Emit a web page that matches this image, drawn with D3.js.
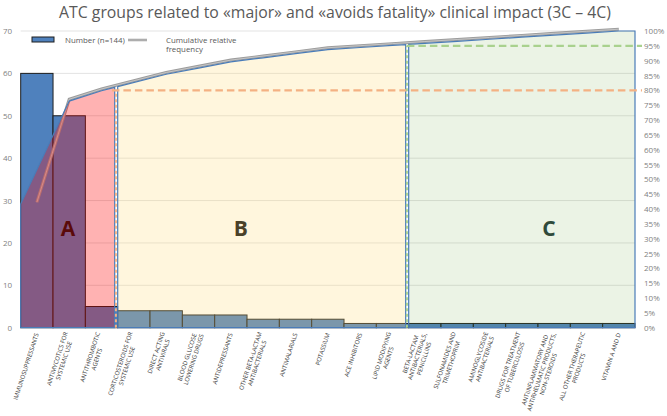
<!DOCTYPE html>
<html><head><meta charset="utf-8">
<script src="https://cdn.jsdelivr.net/npm/d3@7"></script>
<style>body{margin:0;background:#fff} svg{display:block}</style>
</head><body><svg width="667" height="416"></svg>
<script>
const title = "ATC groups related to «major» and «avoids fatality» clinical impact (3C – 4C)";
const categories = [
  "IMMUNOSUPPRESSANTS",
  "ANTIMYCOTICS FOR|SYSTEMIC USE",
  "ANTITHROMBOTIC|AGENTS",
  "CORTICOSTEROIDS FOR|SYSTEMIC USE",
  "DIRECT ACTING|ANTIVIRALS",
  "BLOOD GLUCOSE|LOWERING DRUGS",
  "ANTIDEPRESSANTS",
  "OTHER BETA-LACTAM|ANTIBACTERIALS",
  "ANTIMALARIALS",
  "POTASSIUM",
  "ACE INHIBITORS",
  "LIPID MODIFYING|AGENTS",
  "BETA-LACTAM|ANTIBACTERIALS,|PENICILLINS",
  "SULFONAMIDES AND|TRIMETHOPRIM",
  "AMINOGLYCOSIDE|ANTIBACTERIALS",
  "DRUGS FOR TREATMENT|OF TUBERCULOSIS",
  "ANTIINFLAMMATORY AND|ANTIRHEUMATIC PRODUCTS,|NON-STEROIDS",
  "ALL OTHER THERAPEUTIC|PRODUCTS",
  "VITAMIN A AND D"
];
const counts = [60, 50, 5, 4, 4, 3, 3, 2, 2, 2, 1, 1, 1, 1, 1, 1, 1, 1, 1];
const groupNames = ["A", "B", "C"];
const groupFirst = [0, 3, 12];
const groupLast = [2, 11, 18];
const thresholds = [0.80, 0.95];
const leftTicks = [0, 10, 20, 30, 40, 50, 60, 70];
const rightTicks = [0, .05, .10, .15, .20, .25, .30, .35, .40, .45, .50, .55, .60, .65, .70, .75, .80, .85, .90, .95, 1];
const legendLabels = ["Number (n=144)", "Cumulative relative", "frequency"];

const svg = d3.select("svg");
const plot = {l: 20.7, r: 635, t: 31, b: 327.7};
const x = d3.scaleBand().domain(d3.range(categories.length)).range([plot.l, plot.r]).padding(0);
const bw = x.bandwidth();
const y = d3.scaleLinear().domain([0, 70]).range([plot.b, plot.t]);
const yp = d3.scaleLinear().domain([0, 1]).range([plot.b, plot.t]);
const total = d3.sum(counts);
const cum = Array.from(d3.cumsum(counts), v => v / total);
const cx = i => x(i) + bw / 2;
const cumAt = px => {
  if (px <= cx(0)) return cum[0];
  const n = counts.length;
  if (px >= cx(n - 1)) return cum[n - 1];
  const i = Math.floor((px - cx(0)) / bw);
  const t = (px - cx(i)) / bw;
  return cum[i] + t * (cum[i + 1] - cum[i]);
};
const font = "'Open Sans', sans-serif";
// scale a text's font size so that its rendered width is the wanted one
const fitWidth = (sel, base, want) => {
  sel.attr("font-size", base);
  const w = sel.node().getComputedTextLength();
  const fs = base * want / w;
  sel.attr("font-size", fs);
  return fs;
};

// title
const tt = svg.append("text").attr("x", 335).attr("y", 17.5).attr("text-anchor", "middle")
  .attr("font-family", font).attr("fill", "#595959").text(title);
fitWidth(tt, 14, 552);

// grid
svg.append("g").selectAll("line").data(leftTicks).join("line")
  .attr("x1", plot.l).attr("x2", plot.r).attr("y1", d => y(d)).attr("y2", d => y(d))
  .attr("stroke", "#e3e3e3").attr("stroke-width", 1);

// bars
svg.append("g").selectAll("rect").data(counts).join("rect")
  .attr("x", (d, i) => x(i)).attr("y", d => y(d)).attr("width", bw).attr("height", d => y(0) - y(d))
  .attr("fill", "#4f81bd").attr("stroke", "#1e1e1e").attr("stroke-width", 1);

// cumulative line (under regions)
const line = d3.line().x((d, i) => cx(i)).y(d => yp(d));
const cumG = svg.append("g").attr("transform", "translate(0,-1.8)");
cumG.append("path").attr("d", line(cum)).attr("fill", "none").attr("stroke", "#9c9c9c").attr("stroke-width", 3);
cumG.append("path").attr("d", line(cum)).attr("fill", "none").attr("stroke", "#cfcfcf").attr("stroke-width", 0.8);

// regions
const regionFill = ["rgba(255,0,0,0.3)", "rgba(255,220,120,0.25)", "rgba(112,173,71,0.14)"];
const gapEnd = [3, 3, 0];
groupNames.forEach((g, k) => {
  const xs = x(groupFirst[k]);
  const xe = x(groupLast[k]) + bw - gapEnd[k];
  const pts = [[xs, yp(cumAt(xs))]];
  for (let i = groupFirst[k] + 1; i <= groupLast[k]; i++) if (cx(i) < xe) pts.push([cx(i), yp(cum[i])]);
  pts.push([xe, yp(cumAt(xe))]);
  pts.push([xe, y(0)]);
  pts.push([xs, y(0)]);
  svg.append("path").attr("d", "M" + pts.map(p => p.join(",")).join("L") + "Z")
    .attr("fill", regionFill[k]).attr("stroke", "#4a7cb8").attr("stroke-width", 1.2);
});

// threshold dashed lines
const thrColor = ["#f4b183", "#a9d18e"];
thresholds.forEach((t, k) => {
  const xb = x(groupFirst[k + 1]) - 1.8;
  svg.append("path").attr("d", `M${xb},${y(0)}V${yp(t)}`)
    .attr("stroke", thrColor[k]).attr("stroke-width", 2).attr("stroke-dasharray", "3,2.5").attr("fill", "none");
  svg.append("path").attr("d", `M${xb - 4 * (1 - k)},${yp(t)}H${plot.r + 7}`)
    .attr("stroke", thrColor[k]).attr("stroke-width", 2.4).attr("stroke-dasharray", "7.5,4").attr("fill", "none");
});

// group letters
const letterPos = [1.46, 6.81, 16.34];
const letterColor = ["#5a0a0a", "#4a4128", "#2f4a3b"];
groupNames.forEach((g, k) => {
  svg.append("text").attr("x", plot.l + letterPos[k] * bw).attr("y", y(21.6))
    .attr("text-anchor", "middle").attr("font-family", font).attr("font-weight", "bold")
    .attr("font-size", 21).attr("fill", letterColor[k]).text(g);
});

// axes
const axL = svg.append("g").attr("transform", `translate(${plot.l},0)`)
  .call(d3.axisLeft(y).tickValues(leftTicks).tickSize(0).tickPadding(8.5));
const axR = svg.append("g").attr("transform", `translate(${plot.r},0)`)
  .call(d3.axisRight(yp).tickValues(rightTicks).tickSize(0).tickPadding(9).tickFormat(d3.format(".0%")));
[axL, axR].forEach(a => {
  a.select(".domain").remove();
  a.selectAll("text").attr("font-family", font).attr("font-size", 8).attr("fill", "#7f7f7f");
});

// x labels
const labG = svg.append("g").attr("font-family", "'Liberation Sans Narrow', 'Open Sans', sans-serif")
  .attr("fill", "#333333");
const probe = labG.append("text").text(categories[0].split("|")[0]);
const labFs = fitWidth(probe, 6.5, 70);
probe.remove();
labG.attr("font-size", labFs);
const lh = 7;
categories.forEach((c, i) => {
  const lines = c.split("|");
  const g = labG.append("g").attr("transform", `translate(${cx(i)},${plot.b + 5.5}) rotate(-72)`);
  const texts = lines.map(t => g.append("text").text(t));
  const maxW = d3.max(texts, t => t.node().getComputedTextLength());
  texts.forEach((t, j) => t.attr("text-anchor", "middle").attr("x", -maxW / 2)
    .attr("y", (j - (lines.length - 1) / 2) * lh).attr("dy", "0.35em"));
});

// legend
const lg = svg.append("g").attr("font-family", font).attr("fill", "#595959");
lg.append("rect").attr("x", 32).attr("y", 37).attr("width", 22).attr("height", 5)
  .attr("fill", "#4f81bd").attr("stroke", "#1e1e1e").attr("stroke-width", 1);
const l0 = lg.append("text").attr("x", 65).attr("y", 43).text(legendLabels[0]);
const lfs = fitWidth(l0, 7.5, 60);
lg.append("line").attr("x1", 128).attr("x2", 147).attr("y1", 40).attr("y2", 40).attr("stroke", "#9c9c9c").attr("stroke-width", 2.5);
lg.append("line").attr("x1", 128).attr("x2", 147).attr("y1", 40).attr("y2", 40).attr("stroke", "#cfcfcf").attr("stroke-width", 0.7);
lg.append("text").attr("x", 166).attr("y", 43).attr("font-size", lfs).text(legendLabels[1]);
lg.append("text").attr("x", 166).attr("y", 52).attr("font-size", lfs).text(legendLabels[2]);
</script></body></html>
